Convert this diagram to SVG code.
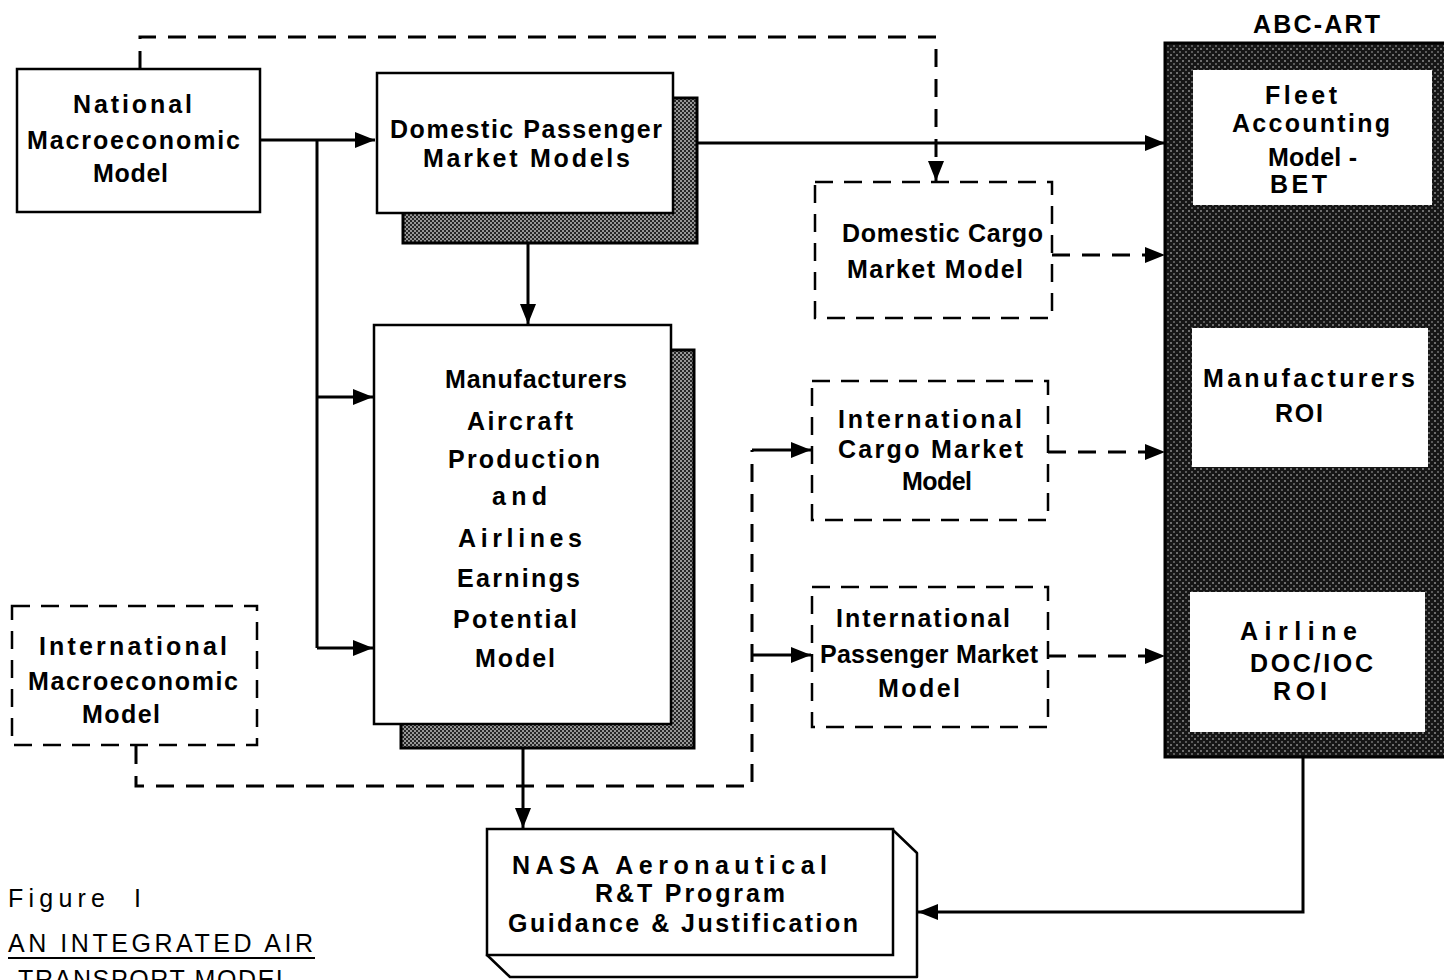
<svg xmlns="http://www.w3.org/2000/svg" width="1444" height="980" viewBox="0 0 1444 980">
<style>
  .t { font-family: "Liberation Sans", Arial, sans-serif; font-weight: bold; font-size: 25px; fill: #000; text-anchor: start; }
  .cap { font-family: "Liberation Sans", Arial, sans-serif; font-weight: normal; font-size: 25px; fill: #000; }
  .box { fill: #fff; stroke: #000; stroke-width: 2.5; }
  .dbox { fill: #fff; stroke: #000; stroke-width: 2.5; stroke-dasharray: 18 11; }
  .shadow { fill: url(#shade); stroke: #000; stroke-width: 3; }
  .ln { fill: none; stroke: #000; stroke-width: 3; }
  .dash { fill: none; stroke: #000; stroke-width: 3; stroke-dasharray: 18 12; }
  .arr { marker-end: url(#ah); }
</style>
<defs>
  <marker id="ah" markerUnits="userSpaceOnUse" markerWidth="22" markerHeight="16" refX="20" refY="8" orient="auto">
    <path d="M0,0 L20,8 L0,16 Z" fill="#000"/>
  </marker>
  <pattern id="shade" width="4" height="4" patternUnits="userSpaceOnUse">
    <rect width="4" height="4" fill="#262626"/>
    <rect x="0" y="0" width="2" height="2" fill="#979797"/>
    <rect x="2" y="2" width="2" height="2" fill="#979797"/>
  </pattern>
  <pattern id="dark" width="6" height="6" patternUnits="userSpaceOnUse">
    <rect width="6" height="6" fill="#161616"/>
    <rect x="0" y="0" width="2" height="2" fill="#6e6e6e"/>
    <rect x="3" y="3" width="2" height="2" fill="#5a5a5a"/>
  </pattern>
</defs>

<g id="national-macro">
  <rect class="box" x="17" y="69" width="243" height="143"/>
  <text class="t" x="73" y="113" textLength="119" lengthAdjust="spacing">National</text>
  <text class="t" x="27" y="149" textLength="213" lengthAdjust="spacing">Macroeconomic</text>
  <text class="t" x="93" y="182" textLength="75" lengthAdjust="spacing">Model</text>
</g>

<g id="domestic-passenger">
  <rect class="shadow" x="403" y="98" width="294" height="145"/>
  <rect class="box" x="377" y="73" width="296" height="140"/>
  <text class="t" x="390" y="138" textLength="272" lengthAdjust="spacing">Domestic Passenger</text>
  <text class="t" x="423" y="167" textLength="207" lengthAdjust="spacing">Market Models</text>
</g>

<g id="manufacturers-model">
  <rect class="shadow" x="401" y="350" width="293" height="398"/>
  <rect class="box" x="374" y="325" width="297" height="399"/>
  <text class="t" x="445" y="388" textLength="182" lengthAdjust="spacing">Manufacturers</text>
  <text class="t" x="467" y="430" textLength="106" lengthAdjust="spacing">Aircraft</text>
  <text class="t" x="448" y="468" textLength="152" lengthAdjust="spacing">Production</text>
  <text class="t" x="492" y="505" textLength="55" lengthAdjust="spacing">and</text>
  <text class="t" x="458" y="547" textLength="124" lengthAdjust="spacing">Airlines</text>
  <text class="t" x="457" y="587" textLength="123" lengthAdjust="spacing">Earnings</text>
  <text class="t" x="453" y="628" textLength="124" lengthAdjust="spacing">Potential</text>
  <text class="t" x="475" y="667" textLength="80" lengthAdjust="spacing">Model</text>
</g>

<g id="international-macro">
  <rect class="dbox" x="12" y="606" width="245" height="139"/>
  <text class="t" x="39" y="655" textLength="188" lengthAdjust="spacing">International</text>
  <text class="t" x="28" y="690" textLength="210" lengthAdjust="spacing">Macroeconomic</text>
  <text class="t" x="82" y="723" textLength="78" lengthAdjust="spacing">Model</text>
</g>

<g id="domestic-cargo">
  <rect class="dbox" x="815" y="182" width="237" height="136"/>
  <text class="t" x="842" y="242" textLength="201" lengthAdjust="spacing">Domestic Cargo</text>
  <text class="t" x="847" y="278" textLength="176" lengthAdjust="spacing">Market Model</text>
</g>

<g id="international-cargo">
  <rect class="dbox" x="812" y="381" width="236" height="139"/>
  <text class="t" x="838" y="428" textLength="184" lengthAdjust="spacing">International</text>
  <text class="t" x="838" y="458" textLength="185" lengthAdjust="spacing">Cargo Market</text>
  <text class="t" x="902" y="490" textLength="70" lengthAdjust="spacing">Model</text>
</g>

<g id="international-passenger">
  <rect class="dbox" x="812" y="587" width="236" height="140"/>
  <text class="t" x="836" y="627" textLength="174" lengthAdjust="spacing">International</text>
  <text class="t" x="820" y="663" textLength="218" lengthAdjust="spacing">Passenger Market</text>
  <text class="t" x="878" y="697" textLength="82" lengthAdjust="spacing">Model</text>
</g>

<g id="abc-art">
  <text class="t" x="1253" y="33" textLength="127" lengthAdjust="spacing">ABC-ART</text>
  <rect x="1165" y="43" width="290" height="714" fill="url(#dark)" stroke="#000" stroke-width="3"/>
</g>

<g id="fleet-accounting">
  <rect x="1193" y="70" width="239" height="135" fill="#fff"/>
  <text class="t" x="1265" y="104" textLength="72" lengthAdjust="spacing">Fleet</text>
  <text class="t" x="1232" y="132" textLength="158" lengthAdjust="spacing">Accounting</text>
  <text class="t" x="1268" y="166" textLength="89" lengthAdjust="spacing">Model -</text>
  <text class="t" x="1270" y="193" textLength="57" lengthAdjust="spacing">BET</text>
</g>

<g id="manufacturers-roi">
  <rect x="1192" y="328" width="236" height="139" fill="#fff"/>
  <text class="t" x="1203" y="387" textLength="212" lengthAdjust="spacing">Manufacturers</text>
  <text class="t" x="1275" y="422" textLength="48" lengthAdjust="spacing">ROI</text>
</g>

<g id="airline-roi">
  <rect x="1190" y="592" width="235" height="140" fill="#fff"/>
  <text class="t" x="1240" y="640" textLength="117" lengthAdjust="spacing">Airline</text>
  <text class="t" x="1250" y="672" textLength="123" lengthAdjust="spacing">DOC/IOC</text>
  <text class="t" x="1273" y="700" textLength="54" lengthAdjust="spacing">ROI</text>
</g>

<g id="nasa">
  <path d="M893,830 L917,853 L917,977 L510,977 L487,955 Z" fill="#fff" stroke="#000" stroke-width="2.5" stroke-linejoin="round"/>
  <rect class="box" x="487" y="829" width="406" height="126"/>
  <text class="t" x="512" y="874" textLength="315" lengthAdjust="spacing">NASA Aeronautical</text>
  <text class="t" x="595" y="902" textLength="190" lengthAdjust="spacing">R&amp;T Program</text>
  <text class="t" x="508" y="932" textLength="350" lengthAdjust="spacing">Guidance &amp; Justification</text>
</g>

<g id="connectors">
  <path class="ln arr" d="M260,140 H375"/>
  <path class="ln" d="M317,140 V648"/>
  <path class="ln arr" d="M317,397 H373"/>
  <path class="ln arr" d="M317,648 H373"/>
  <path class="ln arr" d="M528,243 V324"/>
  <path class="ln arr" d="M697,143 H1165"/>
  <path class="dash arr" d="M140,69 V37 H936 V181"/>
  <path class="dash arr" d="M1052,255 H1165"/>
  <path class="dash arr" d="M1048,452 H1165"/>
  <path class="dash arr" d="M1048,656 H1165"/>
  <path class="dash" d="M136,746 V786 H752 V450"/>
  <path class="ln arr" d="M752,450 H811"/>
  <path class="ln arr" d="M752,655 H811"/>
  <path class="ln arr" d="M523,748 V828"/>
  <path class="ln arr" d="M1303,757 V912 H918"/>
</g>

<g id="caption">
  <text class="cap" x="8" y="907" textLength="97" lengthAdjust="spacing">Figure</text>
  <text class="cap" x="134" y="907">I</text>
  <text class="cap" x="8" y="952" textLength="305" lengthAdjust="spacing">AN INTEGRATED AIR</text>
  <line x1="8" y1="958" x2="315" y2="958" stroke="#000" stroke-width="2"/>
  <text class="cap" x="18" y="988" textLength="272" lengthAdjust="spacing">TRANSPORT MODEL</text>
</g>
</svg>
